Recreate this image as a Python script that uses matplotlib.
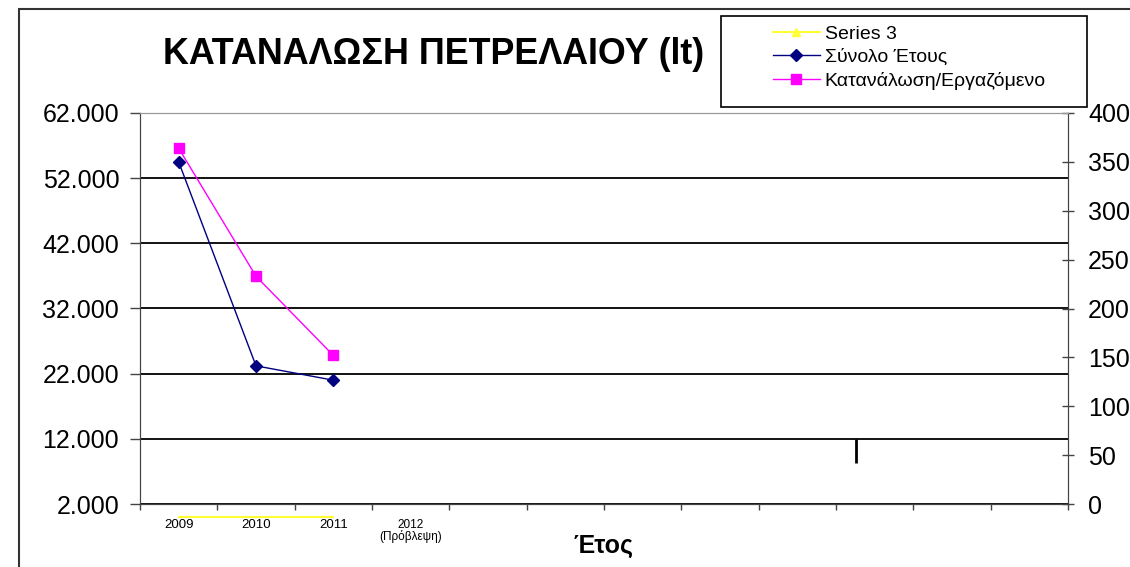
import matplotlib.pyplot as plt
import matplotlib.patches as mpatches
import numpy as np
from matplotlib.ticker import FuncFormatter, MultipleLocator

plt.rcParams['font.family'] = ['Liberation Sans', 'DejaVu Sans']

# data
years = ['2009', '2010', '2011', '2012\n(Πρόβλεψη)', '', '', '', '', '', '', '', '']
series3 = [0, 0, 0]
total_year = [54500, 23200, 21000]            # left axis (lt)
per_employee = [364, 233, 152]                # right axis
left_ticks = np.arange(2000, 62001, 10000)
stray_x = [8.76]
stray_y = [8300, 12000]

fig = plt.figure(figsize=(11.3, 5.67), dpi=100)
ax = fig.add_axes([140/1130, 63/567, 928/1130, 391/567])
ax2 = ax.twinx()

x = np.arange(len(years))

l3, = ax.plot(x[:len(series3)], series3, color='#ffff33', lw=1.5, marker='^',
              markersize=0, clip_on=False, zorder=5)
l1, = ax.plot(x[:len(total_year)], total_year, color='#000080', lw=1,
              marker='D', markersize=6, zorder=6)
l2, = ax2.plot(x[:len(per_employee)], per_employee, color='#ff00ff', lw=1,
               marker='s', markersize=7, zorder=6)
ax.vlines(stray_x, stray_y[0], stray_y[1], color='black', lw=2)

ax.set_xlim(-0.5, len(years) - 0.5)
ax.set_ylim(2000, 62000)
ax2.set_ylim(0, 400)

# category axis: ticks on boundaries, labels at centres
ax.set_xticks(np.arange(-0.5, len(years), 1))
ax.set_xticklabels([])
ax.set_xticks(x, minor=True)
ax.set_xticklabels(years, minor=True, fontsize=9.5)
ax.tick_params(axis='x', which='major', direction='out', length=4, width=1, color='#444')
ax.tick_params(axis='x', which='minor', length=0, pad=11)
for lab in ax.get_xticklabels(minor=True):
    if '\n' in lab.get_text():
        lab.set_fontsize(8.5)
        lab.set_linespacing(0.9)

ax.set_yticks(left_ticks)
ax.yaxis.set_major_formatter(FuncFormatter(lambda v, p: f'{int(v):,}'.replace(',', '.')))
ax.tick_params(axis='y', labelsize=18, length=7, width=1, pad=8, color='#444')
ax.grid(axis='y', color='black', lw=1.3)
ax.set_axisbelow(True)

ax2.yaxis.set_major_locator(MultipleLocator(50))
ax2.tick_params(axis='y', labelsize=18, direction='inout', length=9, width=1, pad=10,
                color='#444')

for a in (ax, ax2):
    a.spines['top'].set_color('#999999')
    a.spines['left'].set_color('#444444')
    a.spines['bottom'].set_color('#444444')
    a.spines['right'].set_color('#444444')

ax.set_xlabel('Έτος', fontsize=18, fontweight='bold', labelpad=-7)

fig.text(434/1130, 1 - 55/567, 'ΚΑΤΑΝΑΛΩΣΗ ΠΕΤΡΕΛΑΙΟΥ (lt)', ha='center', va='center',
         fontsize=25.8, fontweight='bold')

# outer chart border
fig.patches.append(mpatches.Rectangle((19/1130, -0.05), 1.2, 1 - 9/567 + 0.05,
                                      transform=fig.transFigure, fill=False,
                                      edgecolor='#333333', lw=1.5))

# legend box
fig.patches.append(mpatches.Rectangle((721/1130, 1 - 107/567), 366/1130, 91/567,
                                      transform=fig.transFigure, facecolor='white',
                                      edgecolor='black', lw=1.2, zorder=10))
leg = fig.legend([l3, l1, l2], ['Series 3', 'Σύνολο Έτους', 'Κατανάλωση/Εργαζόμενο'],
                 loc='upper left', bbox_to_anchor=(773/1130, 1 - 25/567), frameon=False,
                 fontsize=14, handlelength=2.4, handletextpad=0.25, labelspacing=0.3,
                 borderpad=0, borderaxespad=0)
leg.set_zorder(11)
leg.legend_handles[0].set_markersize(6)
leg.legend_handles[0].set_markerfacecolor('#ffff33')

fig.savefig('out.png', dpi=100)
